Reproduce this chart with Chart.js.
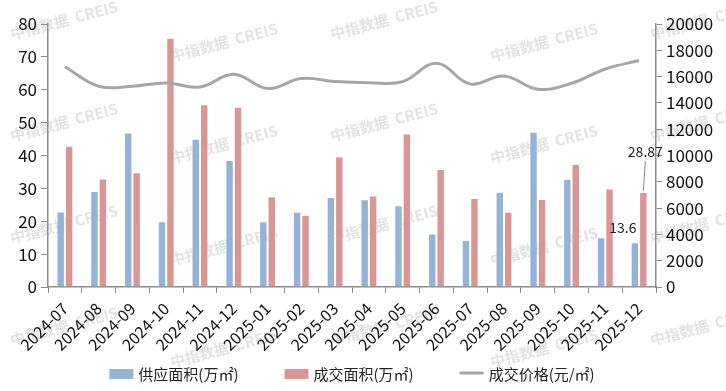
<!DOCTYPE html>
<html>
<head>
<meta charset="utf-8">
<script src="https://cdn.jsdelivr.net/npm/chart.js@4.4.1/dist/chart.umd.min.js"></script>
<style>
  html, body { margin: 0; padding: 0; background: #fff; }
</style>
</head>
<body>
<canvas id="chart" width="726" height="391"></canvas>
<script>
const months = ["2024-07", "2024-08", "2024-09", "2024-10", "2024-11", "2024-12",
    "2025-01", "2025-02", "2025-03", "2025-04", "2025-05", "2025-06",
    "2025-07", "2025-08", "2025-09", "2025-10", "2025-11", "2025-12"];
const supplyArea = [23, 29.2, 47, 20, 45.1, 38.6, 20, 22.9, 27.4, 26.7, 24.9, 16.3, 14.3, 29, 47.2, 32.9, 15.1, 13.6];
const dealArea = [43, 33, 34.9, 75.8, 55.6, 54.8, 27.6, 22, 39.8, 27.8, 46.7, 35.9, 27.1, 22.9, 26.8, 37.4, 30, 28.87];
const dealPrice = [16750, 15270, 15270, 15520, 15210, 16180, 15090, 15850, 15620,
    15540, 15620, 17010, 15440, 16050, 15040, 15490, 16580, 17220];
const seriesNames = ["供应面积(万㎡)", "成交面积(万㎡)", "成交价格(元/㎡)"];

const blue = "#95b3d7";
const red = "#d99694";
const gray = "#a6a6a6";
const axisColor = "#8c8c8c";
const fontFamily = "'Noto Sans CJK SC', 'Noto Sans', sans-serif";
const legendColors = [blue, red, gray];

// watermark behind everything
const watermark = {
    id: "watermark",
    beforeDraw(chart) {
        const ctx = chart.ctx;
        ctx.save();
        ctx.font = "bold 15px " + fontFamily;
        ctx.fillStyle = "rgba(190,190,190,0.45)";
        const cols = [12, 172, 332, 492, 652];
        cols.forEach((x, i) => {
            for (let y = 40 + (i % 2) * 22; y < 420; y += 102) {
                ctx.save();
                ctx.translate(x, y);
                ctx.rotate(-0.26);
                ctx.fillText("中指数据  CREIS", 0, 0);
                ctx.restore();
            }
        });
        ctx.restore();
    }
};

// the two labels on the last month
const lastLabels = {
    id: "lastLabels",
    afterDatasetsDraw(chart) {
        const ctx = chart.ctx;
        const last = months.length - 1;
        const b = chart.getDatasetMeta(0).data[last];
        const r = chart.getDatasetMeta(1).data[last];
        ctx.save();
        ctx.font = "14px " + fontFamily;
        ctx.fillStyle = "#222";
        ctx.textAlign = "center";
        ctx.textBaseline = "middle";
        ctx.fillText(String(supplyArea[last]), b.x - 12, b.y - 15);
        ctx.fillText(String(dealArea[last]), r.x + 2, r.y - 40);
        ctx.strokeStyle = "#888";
        ctx.lineWidth = 1;
        ctx.beginPath();
        ctx.moveTo(r.x, r.y - 1);
        ctx.lineTo(r.x + 2, r.y - 31);
        ctx.stroke();
        ctx.restore();
    }
};

// legend drawn by hand so box/line shapes and spacing match
const bottomLegend = {
    id: "bottomLegend",
    afterDraw(chart) {
        const ctx = chart.ctx;
        const area = chart.chartArea;
        ctx.save();
        ctx.font = "15px " + fontFamily;
        ctx.textBaseline = "middle";
        ctx.textAlign = "left";
        const boxW = 24, gap = 5, spacing = 46;
        const widths = seriesNames.map(n => ctx.measureText(n).width);
        const total = widths.reduce((s, w) => s + boxW + gap + w, 0) + spacing * 2;
        let x = (area.left + area.right) / 2 - total / 2;
        const y = 374;
        seriesNames.forEach((name, i) => {
            if (i === 2) {
                ctx.strokeStyle = gray;
                ctx.lineWidth = 3;
                ctx.beginPath();
                ctx.moveTo(x, y - 1);
                ctx.lineTo(x + boxW, y - 1);
                ctx.stroke();
            } else {
                ctx.fillStyle = legendColors[i];
                ctx.fillRect(x, y - 5, boxW, 10);
            }
            ctx.fillStyle = "#222";
            ctx.fillText(name, x + boxW + gap, y);
            x += boxW + gap + widths[i] + spacing;
        });
        ctx.restore();
    }
};

new Chart(document.getElementById("chart"), {
    data: {
        labels: months,
        datasets: [
            {
                type: "bar",
                label: seriesNames[0],
                data: supplyArea,
                backgroundColor: blue,
                borderColor: "rgba(255,255,255,0.6)",
                borderWidth: 1,
                yAxisID: "y",
                order: 2
            },
            {
                type: "bar",
                label: seriesNames[1],
                data: dealArea,
                backgroundColor: red,
                borderColor: "rgba(255,255,255,0.6)",
                borderWidth: 1,
                yAxisID: "y",
                order: 2
            },
            {
                type: "line",
                label: seriesNames[2],
                data: dealPrice,
                borderColor: gray,
                borderWidth: 3,
                pointRadius: 0,
                tension: 0.4,
                yAxisID: "y1",
                order: 1
            }
        ]
    },
    options: {
        responsive: false,
        animation: false,
        layout: { padding: { top: 24, bottom: 30, left: 0, right: 0 } },
        datasets: {
            bar: { categoryPercentage: 0.5, barPercentage: 1 }
        },
        plugins: {
            tooltip: { enabled: false },
            legend: { display: false }
        },
        scales: {
            x: {
                afterFit(scale) { scale.height = 74; },
                grid: {
                    display: true,
                    drawOnChartArea: false,
                    drawTicks: true,
                    tickLength: 6,
                    color: axisColor
                },
                border: { display: true, color: axisColor, width: 1.5 },
                ticks: {
                    color: "#111",
                    font: { size: 16, family: fontFamily },
                    maxRotation: 45,
                    minRotation: 45,
                    autoSkip: false,
                    padding: 6
                }
            },
            y: {
                position: "left",
                min: 0,
                max: 80,
                afterFit(scale) { scale.width = 48; },
                grid: {
                    display: true,
                    drawOnChartArea: false,
                    tickLength: 7,
                    color: axisColor
                },
                border: { display: true, color: axisColor, width: 1.5 },
                ticks: {
                    stepSize: 10,
                    color: "#111",
                    padding: 4,
                    font: { size: 17, family: fontFamily }
                }
            },
            y1: {
                position: "right",
                min: 0,
                max: 20000,
                afterFit(scale) { scale.width = 70; },
                grid: {
                    display: true,
                    drawOnChartArea: false,
                    tickLength: 6,
                    color: axisColor
                },
                border: { display: true, color: axisColor, width: 1.5 },
                ticks: {
                    stepSize: 2000,
                    color: "#111",
                    padding: 4,
                    font: { size: 17, family: fontFamily },
                    callback: v => String(v)
                }
            }
        }
    },
    plugins: [watermark, lastLabels, bottomLegend]
});
</script>
</body>
</html>
